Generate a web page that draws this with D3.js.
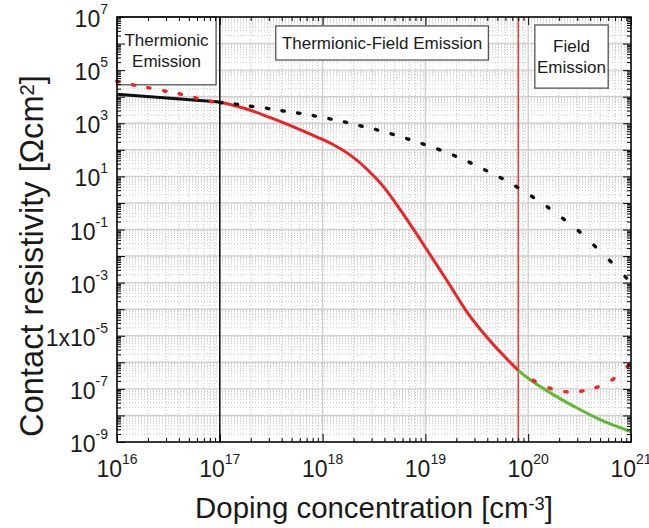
<!DOCTYPE html>
<html>
<head>
<meta charset="utf-8">
<title>Contact resistivity vs doping</title>
<script src="https://d3js.org/d3.v7.min.js"></script>
<style>
  body { margin: 0; background: #fff; }
  text { font-family: Arial, "Liberation Sans", Helvetica, sans-serif; fill: #1a1a1a; }
  .grid-major line { stroke: #cfcfcf; stroke-width: 1.4; }
  .grid-minor line { stroke: #c2c2c2; stroke-width: 0.9; stroke-dasharray: 1,2; }
  .axis line { stroke: #000; stroke-width: 1; }
</style>
</head>
<body>
<svg id="grafico" width="649" height="528"></svg>
<script>
"use strict"

// --- dados (N em cm^-3, rho em Ohm cm^2) ---

// emissao termionica, linha preta continua
var teN   = [1e16, 1e17];
var teRho = [1.23e4, 6.3e3];

// pontos vermelhos na regiao termionica
var teDotN   = [1.02e16, 1.45e16, 2.04e16, 2.92e16, 4.13e16, 5.86e16, 8.3e16];
var teDotRho = [3.7e4, 2.75e4, 2.15e4, 1.63e4, 1.26e4, 8.9e3, 6.6e3];

// termionica-campo, linha vermelha continua
var tfeN   = [1e17, 1.95e17, 3.16e17, 6.03e17, 8.71e17, 1.26e18, 1.86e18, 2.69e18, 3.89e18,
              5.62e18, 8.32e18, 1.2e19, 1.62e19, 2.51e19, 4.27e19, 8e19];
var tfeRho = [6.3e3, 3.16e3, 1.58e3, 575, 309, 158, 63, 19, 4.2,
              0.6, 0.063, 7.1e-3, 1.2e-3, 8.3e-5, 6.3e-6, 5e-7];

// pontos pretos: termionica extrapolada ate 1e21
var thDotN = [1.02e17, 1.45e17, 2.04e17, 2.92e17, 4.13e17, 5.86e17, 8.3e17,
              1.18e18, 1.67e18, 2.36e18, 3.35e18, 4.75e18, 6.73e18, 9.5e18,
              1.35e19, 1.92e19, 2.72e19, 3.85e19, 5.46e19, 7.74e19,
              1.10e20, 1.56e20, 2.20e20, 3.13e20, 4.43e20, 6.28e20, 8.9e20];
var thDotRho = [6.0e3, 5.2e3, 4.3e3, 3.6e3, 2.9e3, 2.4e3, 1.9e3,
                1.47e3, 1.1e3, 790, 570, 390, 257, 165,
                103, 60, 33, 17, 8.7, 4.0,
                1.7, 0.68, 0.25, 0.085, 0.024, 6.5e-3, 1.6e-3];

// emissao de campo, linha verde continua
var feN   = [8e19, 1e20, 2e20, 3e20, 5e20, 7e20, 1e21];
var feRho = [5e-7, 2.5e-7, 4.5e-8, 1.9e-8, 7e-9, 4.1e-9, 2.4e-9];

// pontos vermelhos: termionica-campo extrapolada
var tfeDotN   = [1.14e20, 1.63e20, 2.33e20, 3.33e20, 4.67e20, 6.68e20, 9.35e20];
var tfeDotRho = [2.0e-7, 1.05e-7, 7.8e-8, 8.3e-8, 1.15e-7, 2.3e-7, 7.4e-7];

// fronteiras entre os regimes
var limites = [{n: 1e17, cor: "#000"}, {n: 8e19, cor: "#e8302a"}];

// caixas de texto (cantos em coordenadas dos dados)
var caixas = [
  {x0: 1e16,   x1: 9.2e16, y0: 1e7,   y1: 2.8e4, linhas: ["Thermionic", "Emission"]},
  {x0: 3.5e17, x1: 4.1e19, y0: 4.6e6, y1: 2.4e5, linhas: ["Thermionic-Field Emission"]},
  {x0: 1.16e20, x1: 6.0e20, y0: 5e6,  y1: 2.1e4, linhas: ["Field", "Emission"]}
];

var xMaiores = [1e16, 1e17, 1e18, 1e19, 1e20, 1e21];
var yRotulos = [{v: 1e7, b: "10", e: "7"}, {v: 1e5, b: "10", e: "5"}, {v: 1e3, b: "10", e: "3"},
                {v: 1e1, b: "10", e: "1"}, {v: 1e-1, b: "10", e: "-1"}, {v: 1e-3, b: "10", e: "-3"},
                {v: 1e-5, b: "1x10", e: "-5"}, {v: 1e-7, b: "10", e: "-7"}, {v: 1e-9, b: "10", e: "-9"}];

// --- grafico ---
var larguraSVG = 649, alturaSVG = 528;
var margin = {top: 17, right: 18, bottom: 86, left: 117},
    larguraVis = larguraSVG - margin.left - margin.right,
    alturaVis = alturaSVG - margin.top - margin.bottom;

var x = d3.scaleLog().domain([1e16, 1e21]).range([0, larguraVis]);
var y = d3.scaleLog().domain([1e-9, 1e7]).range([alturaVis, 0]);

var xMenores = x.ticks().filter(function(d) { return xMaiores.indexOf(d) < 0; });
var yMaiores = d3.range(-9, 8).map(function(e) { return Math.pow(10, e); });
var yMenores = [];
d3.range(-9, 7).forEach(function(e) {
  for (var m = 2; m <= 9; m++) yMenores.push(m * Math.pow(10, e));
});

var svg = d3.select("#grafico");
var g = svg.append("g").attr("transform", "translate(" + margin.left + "," + margin.top + ")");

// grade
var gridMenor = g.append("g").attr("class", "grid-minor");
gridMenor.selectAll(".gx").data(xMenores).enter().append("line")
  .attr("x1", function(d) { return x(d); }).attr("x2", function(d) { return x(d); })
  .attr("y1", 0).attr("y2", alturaVis);
gridMenor.selectAll(".gy").data(yMenores).enter().append("line")
  .attr("y1", function(d) { return y(d); }).attr("y2", function(d) { return y(d); })
  .attr("x1", 0).attr("x2", larguraVis);

var gridMaior = g.append("g").attr("class", "grid-major");
gridMaior.selectAll(".gx").data(xMaiores).enter().append("line")
  .attr("x1", function(d) { return x(d); }).attr("x2", function(d) { return x(d); })
  .attr("y1", 0).attr("y2", alturaVis);
gridMaior.selectAll(".gy").data(yMaiores).enter().append("line")
  .attr("y1", function(d) { return y(d); }).attr("y2", function(d) { return y(d); })
  .attr("x1", 0).attr("x2", larguraVis);

// caixas
caixas.forEach(function(c) {
  var bx = x(c.x0), by = y(c.y0), bw = x(c.x1) - x(c.x0), bh = y(c.y1) - y(c.y0);
  g.append("rect").attr("x", bx).attr("y", by).attr("width", bw).attr("height", bh)
    .attr("fill", "#fff").attr("stroke", "#555").attr("stroke-width", 1.3);
  var passo = 21;
  var y0 = by + bh / 2 - (c.linhas.length - 1) * passo / 2 + 6;
  c.linhas.forEach(function(t, i) {
    g.append("text").attr("x", bx + bw / 2).attr("y", y0 + i * passo)
      .attr("text-anchor", "middle").style("font-size", "17px").text(t);
  });
});

// linhas verticais dos limites
g.selectAll(".limite").data(limites).enter().append("line")
  .attr("x1", function(d) { return x(d.n); }).attr("x2", function(d) { return x(d.n); })
  .attr("y1", 0).attr("y2", alturaVis)
  .attr("stroke", function(d) { return d.cor; }).attr("stroke-width", 1.4);

// curvas continuas
var linha = d3.line()
  .x(function(d) { return x(d[0]); })
  .y(function(d) { return y(d[1]); })
  .curve(d3.curveMonotoneX);

function juntar(ns, rs) { return ns.map(function(n, i) { return [n, rs[i]]; }); }

[[teN, teRho, "#111"], [tfeN, tfeRho, "#ec2424"], [feN, feRho, "#62b832"]].forEach(function(s) {
  g.append("path").datum(juntar(s[0], s[1]))
    .attr("fill", "none").attr("stroke", s[2]).attr("stroke-width", 3)
    .attr("d", linha);
});

// pontos (tracinhos curtos alinhados com a curva)
function pontos(ns, rs, cor) {
  var pts = juntar(ns, rs).map(function(d) { return [x(d[0]), y(d[1])]; });
  pts.forEach(function(p, i) {
    var a = pts[Math.max(i - 1, 0)], b = pts[Math.min(i + 1, pts.length - 1)];
    var ang = Math.atan2(b[1] - a[1], b[0] - a[0]);
    var dx = Math.cos(ang) * 1.2, dy = Math.sin(ang) * 1.2;
    g.append("line")
      .attr("x1", p[0] - dx).attr("y1", p[1] - dy)
      .attr("x2", p[0] + dx).attr("y2", p[1] + dy)
      .attr("stroke", cor).attr("stroke-width", 3.4).attr("stroke-linecap", "round");
  });
}
pontos(teDotN, teDotRho, "#ec2424");
pontos(thDotN, thDotRho, "#111");
pontos(tfeDotN, tfeDotRho, "#ec2424");

// eixos (ticks para dentro)
function semDominio(sel) { sel.select(".domain").remove(); }
g.append("g").attr("class", "axis").attr("transform", "translate(0," + alturaVis + ")")
  .call(d3.axisBottom(x).tickValues(xMenores).tickSize(-4).tickFormat("")).call(semDominio);
g.append("g").attr("class", "axis").attr("transform", "translate(0," + alturaVis + ")")
  .call(d3.axisBottom(x).tickValues(xMaiores).tickSize(-8).tickFormat("")).call(semDominio);
g.append("g").attr("class", "axis")
  .call(d3.axisTop(x).tickValues(xMenores).tickSize(-4).tickFormat("")).call(semDominio);
g.append("g").attr("class", "axis")
  .call(d3.axisTop(x).tickValues(xMaiores).tickSize(-8).tickFormat("")).call(semDominio);
g.append("g").attr("class", "axis")
  .call(d3.axisLeft(y).tickValues(yMenores).tickSize(-4).tickFormat("")).call(semDominio);
g.append("g").attr("class", "axis")
  .call(d3.axisLeft(y).tickValues(yMaiores).tickSize(-8).tickFormat("")).call(semDominio);
g.append("g").attr("class", "axis").attr("transform", "translate(" + larguraVis + ",0)")
  .call(d3.axisRight(y).tickValues(yMenores).tickSize(-4).tickFormat("")).call(semDominio);
g.append("g").attr("class", "axis").attr("transform", "translate(" + larguraVis + ",0)")
  .call(d3.axisRight(y).tickValues(yMaiores).tickSize(-8).tickFormat("")).call(semDominio);

g.append("rect").attr("width", larguraVis).attr("height", alturaVis)
  .attr("fill", "none").attr("stroke", "#000").attr("stroke-width", 1.5);

// rotulos dos ticks
xMaiores.forEach(function(v) {
  var t = g.append("text").attr("x", x(v)).attr("y", alturaVis + 35)
    .attr("text-anchor", "middle").style("font-size", "23px");
  t.append("tspan").text("10");
  t.append("tspan").attr("dy", -13).style("font-size", "14px").text(Math.round(Math.log10(v)));
});

yRotulos.forEach(function(r) {
  var t = g.append("text").attr("x", -9).attr("y", y(r.v) + 10)
    .attr("text-anchor", "end").style("font-size", "23px");
  t.append("tspan").text(r.b);
  t.append("tspan").attr("dy", -13).style("font-size", "14px").text(r.e);
});

// titulos dos eixos: tamanho ajustado ao comprimento desejado
function ajustar(t, comprimento) {
  var w = t.node().getBBox().width;
  var fs = parseFloat(t.style("font-size"));
  t.style("font-size", (fs * comprimento / w) + "px");
}

var tx = g.append("text").attr("x", 257).attr("y", alturaVis + 76)
  .attr("text-anchor", "middle").style("font-size", "30px");
tx.append("tspan").text("Doping concentration [cm");
tx.append("tspan").attr("dy", "-0.45em").style("font-size", "0.62em").text("-3");
tx.append("tspan").attr("dy", "0.28em").text("]");
ajustar(tx, 358);

// eixo y: centro em y=256 (pagina), linha de base em x=43
var ty = g.append("text")
  .attr("transform", "translate(" + (43 - margin.left) + "," + (256 - margin.top) + ") rotate(-90)")
  .attr("text-anchor", "middle").style("font-size", "30px");
ty.append("tspan").text("Contact resistivity [\u03A9cm");
ty.append("tspan").attr("dy", "-0.45em").style("font-size", "0.62em").text("2");
ty.append("tspan").attr("dy", "0.28em").text("]");
ajustar(ty, 362);
</script>
</body>
</html>
